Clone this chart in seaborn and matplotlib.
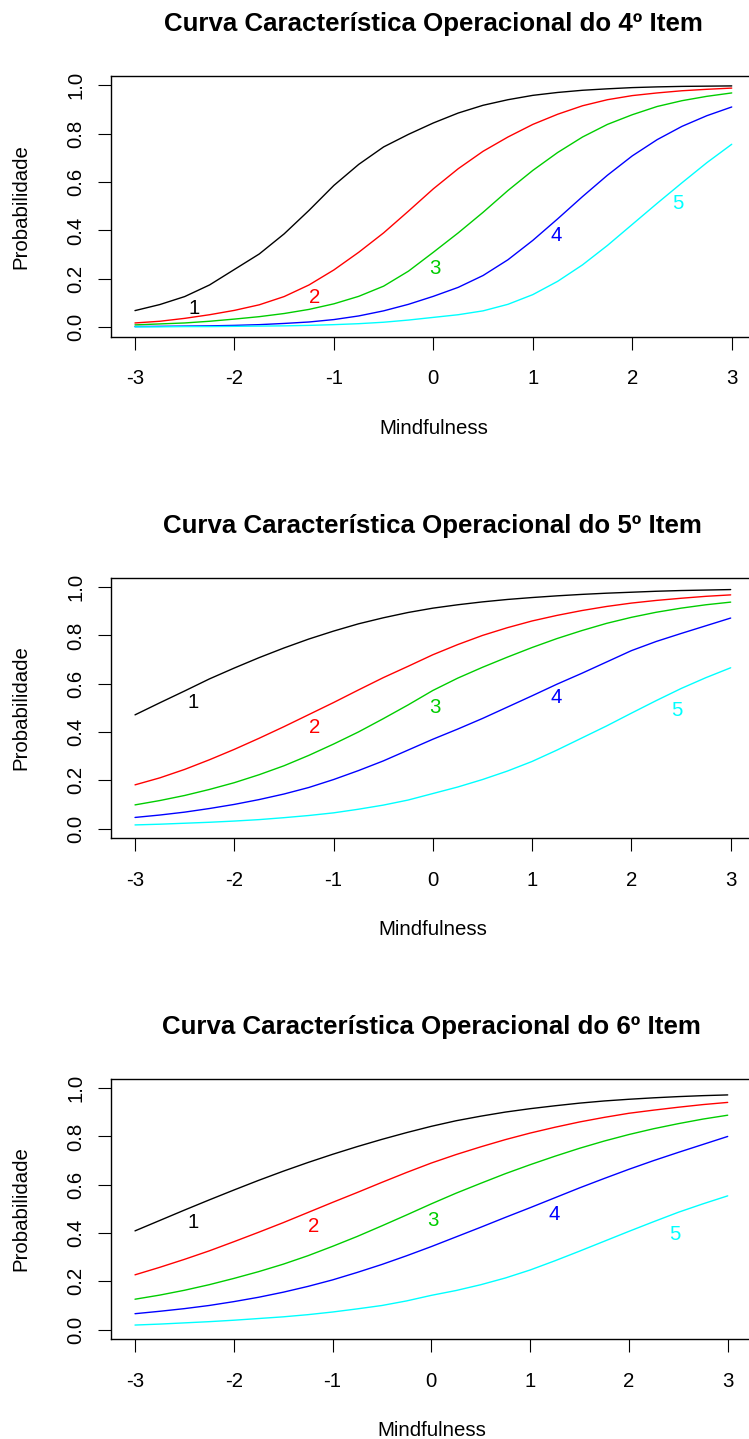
import numpy as np
import pandas as pd
import matplotlib
matplotlib.use("Agg")
import matplotlib.pyplot as plt
import seaborn as sns

# ---------------- data ----------------
theta = [-3.0, -2.75, -2.5, -2.25, -2.0, -1.75, -1.5, -1.25, -1.0, -0.75, -0.5, -0.25,
         0.0, 0.25, 0.5, 0.75, 1.0, 1.25, 1.5, 1.75, 2.0, 2.25, 2.5, 2.75, 3.0]
categories = ["1", "2", "3", "4", "5"]
colors = ["black", "#FF0000", "#00CD00", "#0000FF", "#00FFFF"]
titles = ["Curva Característica Operacional do 4º Item",
          "Curva Característica Operacional do 5º Item",
          "Curva Característica Operacional do 6º Item"]
xlabel = "Mindfulness"
ylabel = "Probabilidade"
xticks = [-3, -2, -1, 0, 1, 2, 3]
yticks = [0.0, 0.2, 0.4, 0.6, 0.8, 1.0]
yticklabels = ["0.0", "0.2", "0.4", "0.6", "0.8", "1.0"]

item4_c1 = [0.069, 0.094, 0.127, 0.175, 0.239, 0.303, 0.386, 0.483, 0.586, 0.673, 0.745, 0.797, 0.844,
            0.885, 0.917, 0.940, 0.958, 0.970, 0.979, 0.985, 0.990, 0.993, 0.995, 0.996, 0.997]
item4_c2 = [0.018, 0.025, 0.037, 0.052, 0.070, 0.093, 0.127, 0.175, 0.237, 0.310, 0.390, 0.480, 0.572,
            0.655, 0.727, 0.786, 0.838, 0.880, 0.915, 0.940, 0.957, 0.968, 0.977, 0.983, 0.988]
item4_c3 = [0.010, 0.014, 0.018, 0.025, 0.034, 0.044, 0.057, 0.074, 0.097, 0.128, 0.170, 0.232, 0.310,
            0.390, 0.475, 0.565, 0.648, 0.722, 0.786, 0.838, 0.878, 0.912, 0.936, 0.954, 0.968]
item4_c4 = [0.003, 0.004, 0.005, 0.006, 0.008, 0.011, 0.016, 0.022, 0.032, 0.047, 0.068, 0.095, 0.128,
            0.165, 0.214, 0.279, 0.359, 0.448, 0.540, 0.628, 0.708, 0.775, 0.830, 0.874, 0.910]
item4_c5 = [0.002, 0.002, 0.003, 0.003, 0.004, 0.005, 0.006, 0.008, 0.011, 0.015, 0.021, 0.030, 0.041,
            0.052, 0.068, 0.095, 0.135, 0.190, 0.258, 0.338, 0.425, 0.512, 0.597, 0.680, 0.756]

item5_c1 = [0.471, 0.521, 0.570, 0.620, 0.665, 0.708, 0.748, 0.785, 0.818, 0.848, 0.873, 0.895, 0.913,
            0.927, 0.939, 0.949, 0.957, 0.964, 0.970, 0.975, 0.979, 0.983, 0.986, 0.988, 0.990]
item5_c2 = [0.181, 0.210, 0.245, 0.285, 0.328, 0.374, 0.422, 0.472, 0.522, 0.574, 0.625, 0.672, 0.720,
            0.762, 0.800, 0.832, 0.860, 0.883, 0.903, 0.920, 0.934, 0.945, 0.954, 0.962, 0.968]
item5_c3 = [0.098, 0.116, 0.137, 0.162, 0.190, 0.223, 0.260, 0.303, 0.350, 0.400, 0.455, 0.512, 0.572,
            0.623, 0.668, 0.710, 0.750, 0.787, 0.820, 0.850, 0.875, 0.896, 0.913, 0.927, 0.938]
item5_c4 = [0.046, 0.056, 0.068, 0.083, 0.100, 0.120, 0.143, 0.170, 0.203, 0.240, 0.280, 0.325, 0.370,
            0.412, 0.456, 0.503, 0.550, 0.598, 0.643, 0.690, 0.737, 0.775, 0.808, 0.840, 0.872]
item5_c5 = [0.015, 0.018, 0.022, 0.026, 0.031, 0.037, 0.045, 0.054, 0.065, 0.080, 0.097, 0.118, 0.145,
            0.172, 0.203, 0.238, 0.278, 0.325, 0.375, 0.425, 0.478, 0.530, 0.580, 0.625, 0.666]

item6_c1 = [0.409, 0.452, 0.495, 0.537, 0.578, 0.618, 0.656, 0.692, 0.726, 0.758, 0.788, 0.816, 0.842,
            0.865, 0.884, 0.901, 0.915, 0.927, 0.938, 0.947, 0.954, 0.960, 0.965, 0.969, 0.972]
item6_c2 = [0.227, 0.258, 0.291, 0.326, 0.364, 0.403, 0.443, 0.485, 0.527, 0.568, 0.610, 0.651, 0.690,
            0.725, 0.757, 0.787, 0.814, 0.838, 0.860, 0.879, 0.896, 0.909, 0.921, 0.932, 0.941]
item6_c3 = [0.126, 0.143, 0.163, 0.186, 0.212, 0.240, 0.271, 0.306, 0.345, 0.386, 0.430, 0.475, 0.521,
            0.565, 0.606, 0.646, 0.683, 0.718, 0.751, 0.781, 0.808, 0.832, 0.853, 0.872, 0.888]
item6_c4 = [0.066, 0.076, 0.087, 0.100, 0.116, 0.134, 0.155, 0.179, 0.206, 0.237, 0.270, 0.306, 0.344,
            0.384, 0.424, 0.465, 0.505, 0.546, 0.587, 0.626, 0.664, 0.700, 0.734, 0.767, 0.800]
item6_c5 = [0.019, 0.023, 0.028, 0.033, 0.039, 0.046, 0.053, 0.062, 0.073, 0.086, 0.100, 0.119, 0.142,
            0.162, 0.186, 0.214, 0.247, 0.285, 0.325, 0.366, 0.407, 0.447, 0.486, 0.521, 0.554]

# curve-number annotations (x, y) per item
label_x = [-2.41, -1.19, 0.02, 1.24, 2.46]
item4_label_y = [0.077, 0.124, 0.243, 0.379, 0.510]
item5_label_y = [0.523, 0.420, 0.503, 0.544, 0.489]
item6_label_y = [0.443, 0.427, 0.454, 0.475, 0.392]

items = [
    [item4_c1, item4_c2, item4_c3, item4_c4, item4_c5],
    [item5_c1, item5_c2, item5_c3, item5_c4, item5_c5],
    [item6_c1, item6_c2, item6_c3, item6_c4, item6_c5],
]
labels_y = [item4_label_y, item5_label_y, item6_label_y]

# ---------------- style ----------------
sns.set_theme(style="white")
plt.rcParams["font.family"] = ["Liberation Sans", "DejaVu Sans"]
plt.rcParams["axes.unicode_minus"] = False
plt.rcParams["text.color"] = "black"
plt.rcParams["axes.labelcolor"] = "black"
plt.rcParams["xtick.color"] = "black"
plt.rcParams["ytick.color"] = "black"

W, H = 749, 1439
fig = plt.figure(figsize=(W / 100, H / 100), dpi=100)
fig.patch.set_facecolor("white")

# axes boxes in pixels: (left, right, top, bottom)
boxes = [(111.1, 755.6, 75.5, 337.0),
         (111.2, 754.5, 577.5, 838.2),
         (111.3, 751.4, 1078.5, 1339.3)]

FS = 14.7
for i, (l, r, t, b) in enumerate(boxes):
    w_px, h_px = r - l, b - t
    ax = fig.add_axes([l / W, (H - b) / H, w_px / W, h_px / H])
    rows = []
    for cat, vals in zip(categories, items[i]):
        for th, p in zip(theta, vals):
            rows.append((th, p, cat))
    df = pd.DataFrame(rows, columns=["theta", "prob", "cat"])
    sns.lineplot(data=df, x="theta", y="prob", hue="cat", palette=colors,
                 hue_order=categories, legend=False, ax=ax, linewidth=1.0,
                 estimator=None, sort=False)
    for cat, c, lx, ly in zip(categories, colors, label_x, labels_y[i]):
        ax.text(lx, ly, cat, color=c, fontsize=FS, ha="center", va="center")

    ax.set_xlim(-3.24, 3.24)
    ax.set_ylim(-0.04, 1.04)
    ax.set_xticks(xticks)
    ax.set_xticklabels([str(v) for v in xticks])
    ax.set_yticks(yticks)
    ax.set_yticklabels(yticklabels, rotation=90, va="center")
    ax.tick_params(axis="both", which="major", bottom=True, left=True,
                   direction="out", length=9.1, width=0.8, labelsize=FS,
                   colors="black")
    ax.tick_params(axis="x", pad=14.2)
    ax.tick_params(axis="y", pad=9.5)
    for s in ax.spines.values():
        s.set_visible(True)
        s.set_color("black")
        s.set_linewidth(1.0)

    ax.set_xlabel(xlabel, fontsize=FS, va="center")
    ax.xaxis.set_label_coords(0.5, -91.5 / h_px)
    ax.set_ylabel(ylabel, fontsize=FS, va="center")
    ax.yaxis.set_label_coords((21 - l) / w_px, 0.5)
    ax.set_title(titles[i], fontsize=18.6, fontweight="bold",
                 y=1 + 51.5 / h_px, va="center", pad=0)

fig.savefig("out.png", dpi=100, facecolor="white")
